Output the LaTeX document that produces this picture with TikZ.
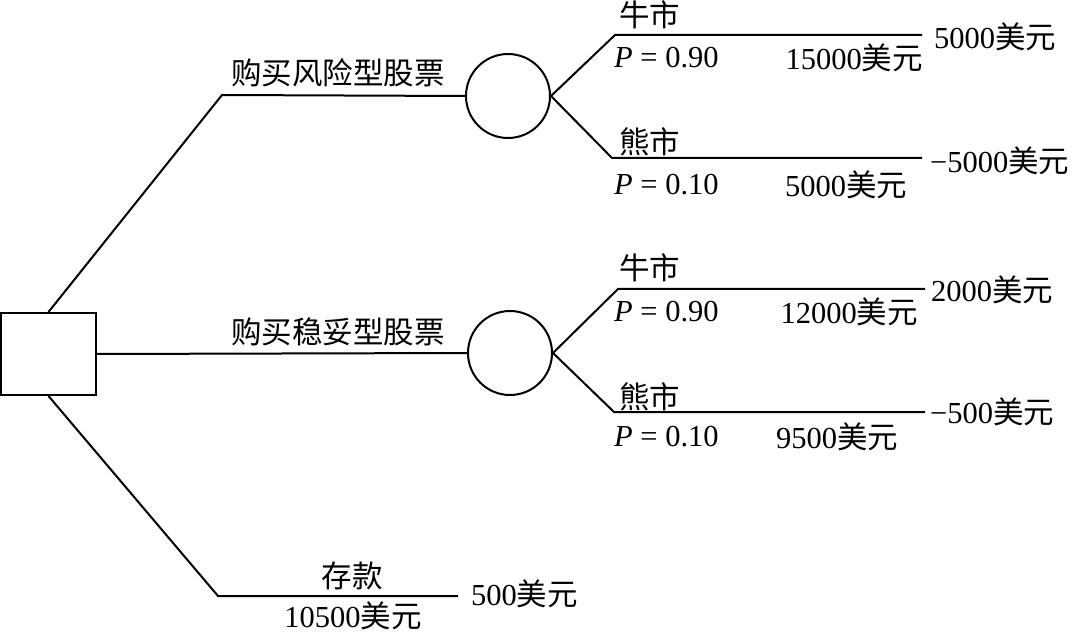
\documentclass[tikz,border=0pt]{standalone}
\usepackage{fontspec}
\setmainfont{Liberation Serif}
\newfontfamily\cjk{Noto Sans CJK SC}
\newcommand{\my}{{\cjk 美元}}
\begin{document}
\begin{tikzpicture}[x=1pt,y=-1pt,
  ln/.style={line width=2pt},
  lbl/.style={inner sep=0pt,font=\fontsize{30.5}{36}\selectfont},
  chance/.style={draw,circle,line width=2pt,minimum size=84pt,inner sep=0pt},
  decision/.style={draw,rectangle,line width=2pt,minimum width=95pt,minimum height=82pt,inner sep=0pt}]
\useasboundingbox (0,0) rectangle (1074,636);
% nodes
\node[decision] (d) at (48.5,354) {};
\node[chance] (c1) at (508,96) {};
\node[chance] (c2) at (510,353) {};
\coordinate (a1) at (222,95);
\coordinate (a3) at (218,596);
\coordinate (e3) at (458,596);
\coordinate (b1) at (615,35);  \coordinate (f1) at (922,35);
\coordinate (b2) at (612,158); \coordinate (f2) at (922,158);
\coordinate (b3) at (618,289); \coordinate (f3) at (925,289);
\coordinate (b4) at (614,412); \coordinate (f4) at (925,412);
% connectors
\draw[ln] (d.north) -- (a1) -- (c1.west);
\draw[ln] (d.east) -- (c2.west);
\draw[ln] (d.south) -- (a3) -- (e3);
\draw[ln] (c1.east) -- (b1) -- (f1);
\draw[ln] (c1.east) -- (b2) -- (f2);
\draw[ln] (c2.east) -- (b3) -- (f3);
\draw[ln] (c2.east) -- (b4) -- (f4);
% labels
\node[lbl,anchor=west] (l1) at (231,73) {\cjk 购买风险型股票};
\node[lbl,anchor=west] (l2) at (231,332) {\cjk 购买稳妥型股票};
\node[lbl] (l3) at (352,576) {\cjk 存款};
\node[lbl] (l4) at (353,616) {10500\my};
\node[lbl,anchor=west] (l5) at (471,594) {500\my};
% upper chance branches
\node[lbl,anchor=west] (t1) at (619,15) {\cjk 牛市};
\node[lbl,anchor=west] (p1) at (614,58) {{\itshape P} = 0.90};
\node[lbl,anchor=east] (v1) at (923,58) {15000\my};
\node[lbl,anchor=west] (r1) at (934,37) {5000\my};
\node[lbl,anchor=west] (t2) at (619,142) {\cjk 熊市};
\node[lbl,anchor=west] (p2) at (614,185) {{\itshape P} = 0.10};
\node[lbl,anchor=west] (v2) at (785,185) {5000\my};
\node[lbl,anchor=west] (r2) at (930,161) {−5000\my};
% lower chance branches
\node[lbl,anchor=west] (t3) at (619,268) {\cjk 牛市};
\node[lbl,anchor=west] (p3) at (614,312) {{\itshape P} = 0.90};
\node[lbl,anchor=east] (v3) at (918,312) {12000\my};
\node[lbl,anchor=west] (r3) at (931,290) {2000\my};
\node[lbl,anchor=west] (t4) at (619,397) {\cjk 熊市};
\node[lbl,anchor=west] (p4) at (614,437) {{\itshape P} = 0.10};
\node[lbl,anchor=west] (v4) at (776,437) {9500\my};
\node[lbl,anchor=west] (r4) at (930,412) {−500\my};
\end{tikzpicture}
\end{document}
